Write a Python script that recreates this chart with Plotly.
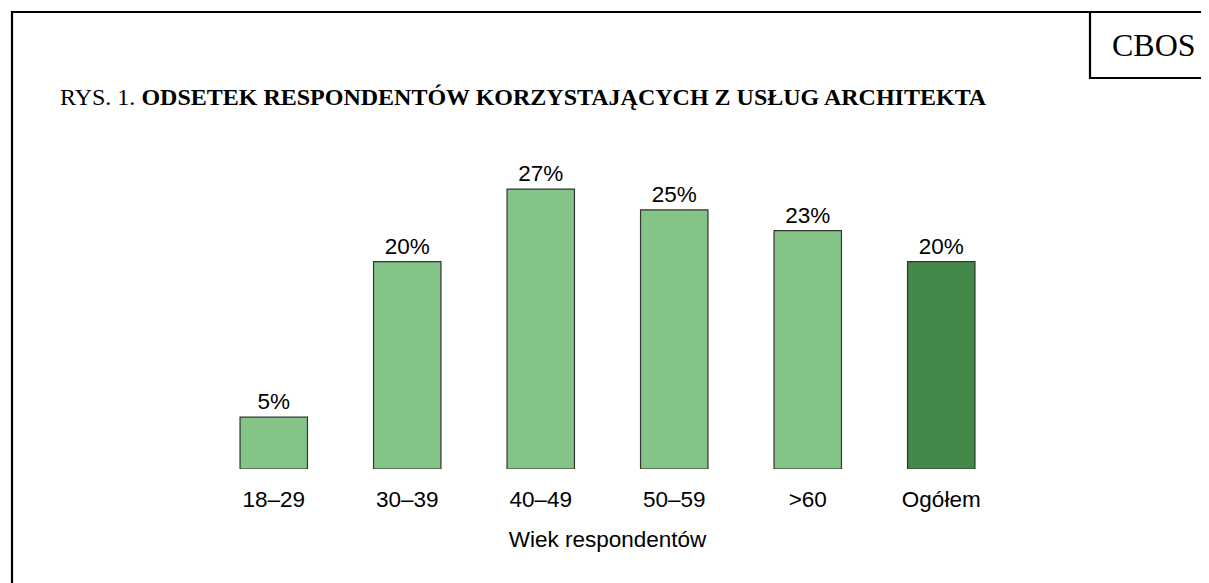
import plotly.graph_objects as go

categories = ["18–29", "30–39", "40–49", "50–59", ">60", "Ogółem"]
values = [5, 20, 27, 25, 23, 20]
labels = ["5%", "20%", "27%", "25%", "23%", "20%"]
bar_colors = ["#85c487", "#85c487", "#85c487", "#85c487", "#85c487", "#42894a"]

OFF = 8  # default page body margin
W, H = 1209 - OFF, 583 - OFF
# plot area in window pixels
L, R, T, B = 207, 1008, 158, 469


def px(x):
    return (x - L) / (R - L)


def py(y):
    return (B - y) / (B - T)


fig = go.Figure(
    go.Bar(
        x=categories,
        y=values,
        text=labels,
        textposition="outside",
        textfont=dict(family="Liberation Sans, Arial", size=22.5, color="black"),
        marker=dict(color=bar_colors, line=dict(color="#333333", width=1.2)),
        width=0.505,
        cliponaxis=False,
    )
)

fig.update_layout(
    width=W,
    height=H,
    margin=dict(l=L - OFF, r=W - (R - OFF), t=T - OFF, b=H - (B - OFF), pad=0),
    paper_bgcolor="white",
    plot_bgcolor="white",
    showlegend=False,
    font=dict(family="Liberation Sans, Arial", size=22.5, color="black"),
    title=dict(
        text="RYS. 1. <b>ODSETEK RESPONDENTÓW KORZYSTAJĄCYCH Z USŁUG ARCHITEKTA</b>",
        font=dict(family="Liberation Serif, Times New Roman", size=24, color="black"),
        x=(60 - OFF) / W,
        xanchor="left",
        xref="container",
        y=1 - (97 - OFF) / H,
        yanchor="middle",
        yref="container",
    ),
    xaxis=dict(
        showgrid=False,
        zeroline=False,
        showline=False,
        ticks="outside",
        ticklen=10,
        tickcolor="rgba(0,0,0,0)",
        tickfont=dict(size=22.5),
        title=dict(text="Wiek respondentów", font=dict(size=22.5), standoff=20),
        range=[-0.5, 5.5],
    ),
    yaxis=dict(
        range=[0, 30],
        visible=False,
    ),
    shapes=[
        dict(type="rect", xref="paper", yref="paper",
             x0=px(12), x1=px(1230), y0=py(12), y1=py(620),
             line=dict(color="black", width=2.2), fillcolor="rgba(0,0,0,0)", layer="above"),
        dict(type="rect", xref="paper", yref="paper",
             x0=px(1090), x1=px(1230), y0=py(12), y1=py(78),
             line=dict(color="black", width=2.2), fillcolor="rgba(0,0,0,0)", layer="above"),
    ],
    annotations=[
        dict(text="CBOS", xref="paper", yref="paper", x=px(1154), y=py(45),
             xanchor="center", yanchor="middle", showarrow=False,
             font=dict(family="Liberation Serif, Times New Roman", size=32, color="black")),
    ],
)

fig.write_html("out.html")
